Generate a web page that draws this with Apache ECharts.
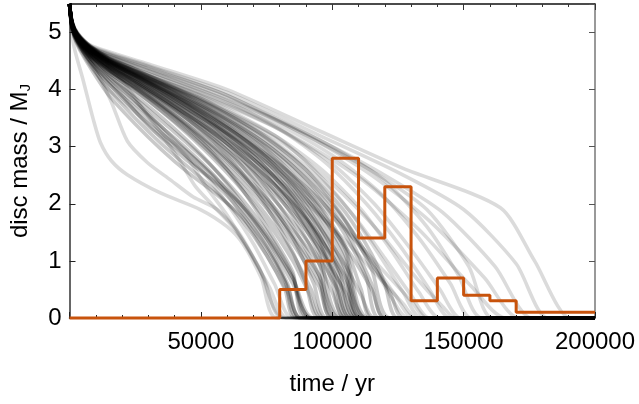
<!DOCTYPE html>
<html>
<head>
<meta charset="utf-8">
<script src="https://cdn.jsdelivr.net/npm/echarts@6/dist/echarts.min.js"></script>
<style>html,body{margin:0;padding:0;background:#fff}#c{width:639px;height:404px}</style>
</head>
<body>
<div id="c"></div>
<script>
// ---- data ----
// histogram (orange): left bin edges and heights
const histEdges = [0,10000,20000,30000,40000,50000,60000,70000,80000,90000,100000,110000,120000,130000,140000,150000,160000,170000,180000,190000,200000];
const histValues = [0,0,0,0,0,0,0,0,0.5,1.0,2.8,1.4,2.3,0.3,0.7,0.4,0.3,0.1,0.1,0.1];

// grey disc-mass tracks [time, mass]
const upperTracks = [
 [[0,5.5],[1000,5.2],[3000,5.0],[8000,4.78],[30000,4.45],[60000,4.0],[95000,3.28],[127000,2.62],[164000,1.93],[177000,1.0],[190500,0]],
 [[0,5.5],[1000,5.19],[3000,4.99],[8000,4.76],[30000,4.42],[60000,3.95],[95000,3.2],[125000,2.55],[150000,1.9],[170000,0.95],[182000,0]],
 [[0,5.5],[1000,5.19],[3000,4.99],[8000,4.75],[30000,4.4],[60000,3.9],[95000,3.12],[120000,2.5],[142000,1.85],[162000,0.9],[176000,0]],
 [[0,5.5],[1000,5.18],[3000,4.98],[8000,4.73],[30000,4.36],[60000,3.86],[92000,3.15],[115000,2.5],[137000,1.7],[158000,0.7],[171000,0]],
 [[0,5.5],[1000,5.18],[3000,4.97],[8000,4.72],[30000,4.33],[60000,3.8],[90000,3.05],[112000,2.4],[133000,1.55],[153000,0.55],[166000,0]],
 [[0,5.5],[1000,5.19],[3000,4.98],[8000,4.74],[30000,4.38],[60000,3.9],[95000,3.08],[116000,2.55],[136000,1.9],[152000,0.9],[161000,0]]
];
const middleTracks = [
 [[0,5.5],[1000,5.18],[3000,4.97],[8000,4.72],[20000,4.5],[50000,4.0],[80000,3.45],[100000,3.0],[120000,2.4],[136000,1.6],[148000,0.75],[157000,0]],
 [[0,5.5],[1000,5.17],[3000,4.96],[8000,4.7],[20000,4.46],[50000,3.95],[80000,3.38],[100000,2.85],[118000,2.2],[133000,1.4],[145000,0.6],[153000,0]],
 [[0,5.5],[1000,5.16],[3000,4.95],[8000,4.68],[20000,4.42],[50000,3.9],[80000,3.3],[100000,2.7],[116000,2.0],[130000,1.2],[141000,0.5],[149000,0]],
 [[0,5.5],[1000,5.17],[3000,4.96],[8000,4.7],[20000,4.45],[50000,3.93],[80000,3.3],[98000,2.7],[113000,2.0],[126000,1.25],[137000,0.5],[145000,0]],
 [[0,5.5],[1000,5.15],[3000,4.94],[8000,4.66],[20000,4.38],[50000,3.84],[78000,3.2],[96000,2.6],[111000,1.9],[123000,1.15],[133000,0.45],[141000,0]],
 [[0,5.5],[1000,5.14],[3000,4.93],[8000,4.64],[20000,4.35],[50000,3.8],[76000,3.15],[94000,2.5],[108000,1.8],[120000,1.05],[130000,0.4],[137000,0]],
 [[0,5.5],[1000,5.16],[3000,4.95],[8000,4.68],[20000,4.42],[50000,3.88],[78000,3.2],[93000,2.6],[107000,1.85],[118000,1.1],[127000,0.45],[134000,0]],
 [[0,5.5],[1000,5.13],[3000,4.91],[8000,4.6],[20000,4.3],[50000,3.72],[74000,3.08],[90000,2.45],[104000,1.75],[115000,1.0],[124000,0.4],[131000,0]],
 [[0,5.5],[1000,5.15],[3000,4.94],[8000,4.66],[20000,4.4],[50000,3.85],[74000,3.2],[90000,2.6],[103000,1.85],[114000,1.05],[122000,0.4],[129000,0]],
 [[0,5.5],[1000,5.14],[3000,4.92],[8000,4.62],[20000,4.3],[45000,3.65],[70000,2.95],[90000,2.2],[106000,1.5],[120000,0.8],[130000,0.3],[136000,0]],
 [[0,5.5],[1000,5.12],[3000,4.89],[8000,4.58],[20000,4.25],[45000,3.55],[68000,2.85],[88000,2.1],[104000,1.4],[118000,0.7],[127000,0.25],[132000,0]],
 [[0,5.5],[1000,5.15],[3000,4.93],[8000,4.64],[20000,4.36],[50000,3.82],[80000,3.1],[100000,2.35],[118000,1.5],[132000,0.7],[142000,0.2],[147000,0]]
];
const coreTracks = [
 [[0,5.5],[1000,5.1],[3000,4.88],[8000,4.6],[15000,4.34],[25000,4.03],[35000,3.7],[45000,3.32],[55000,2.87],[65000,2.3],[75000,1.6],[85000,0.8],[90000,0]],
 [[0,5.5],[1000,5.08],[3000,4.85],[8000,4.55],[15000,4.25],[25000,3.9],[35000,3.52],[45000,3.1],[55000,2.62],[65000,2.05],[75000,1.4],[85000,0.6],[92000,0]],
 [[0,5.5],[1000,5.12],[3000,4.9],[8000,4.65],[15000,4.4],[25000,4.12],[35000,3.82],[45000,3.48],[55000,3.08],[65000,2.58],[75000,1.95],[85000,1.15],[90000,0.6],[95000,0]],
 [[0,5.5],[1000,5.1],[3000,4.87],[8000,4.58],[15000,4.3],[25000,3.98],[35000,3.62],[45000,3.22],[55000,2.78],[65000,2.28],[75000,1.7],[85000,1.0],[91000,0.45],[96000,0]],
 [[0,5.5],[1000,5.13],[3000,4.91],[8000,4.67],[15000,4.42],[25000,4.15],[35000,3.86],[45000,3.54],[55000,3.16],[65000,2.7],[75000,2.12],[85000,1.4],[93000,0.6],[98000,0]],
 [[0,5.5],[1000,5.13],[3000,4.92],[8000,4.68],[15000,4.44],[25000,4.18],[35000,3.9],[45000,3.6],[55000,3.25],[65000,2.82],[75000,2.28],[85000,1.6],[95000,0.75],[100000,0]],
 [[0,5.5],[1000,5.11],[3000,4.88],[8000,4.6],[15000,4.33],[25000,4.02],[35000,3.68],[45000,3.3],[55000,2.88],[65000,2.42],[75000,1.92],[85000,1.3],[95000,0.55],[100000,0]],
 [[0,5.5],[1000,5.14],[3000,4.93],[8000,4.69],[15000,4.46],[25000,4.2],[35000,3.93],[45000,3.64],[55000,3.31],[65000,2.9],[75000,2.4],[85000,1.78],[95000,0.95],[102000,0]],
 [[0,5.5],[1000,5.12],[3000,4.9],[8000,4.62],[15000,4.36],[25000,4.06],[35000,3.74],[45000,3.38],[55000,2.98],[65000,2.54],[75000,2.05],[85000,1.45],[95000,0.75],[103000,0]],
 [[0,5.5],[1000,5.14],[3000,4.94],[8000,4.7],[15000,4.47],[25000,4.23],[35000,3.97],[45000,3.7],[55000,3.38],[65000,3.0],[75000,2.55],[85000,1.98],[95000,1.2],[100000,0.62],[105000,0]],
 [[0,5.5],[1000,5.12],[3000,4.9],[8000,4.62],[15000,4.35],[25000,4.05],[35000,3.72],[45000,3.38],[55000,3.0],[65000,2.58],[75000,2.1],[85000,1.55],[95000,0.95],[100000,0.45],[105000,0]],
 [[0,5.5],[1000,5.15],[3000,4.95],[8000,4.71],[15000,4.48],[25000,4.24],[35000,3.99],[45000,3.72],[55000,3.41],[65000,3.05],[75000,2.62],[85000,2.07],[95000,1.33],[101000,0.65],[106000,0]],
 [[0,5.5],[1000,5.13],[3000,4.91],[8000,4.64],[15000,4.38],[25000,4.09],[35000,3.78],[45000,3.45],[55000,3.08],[65000,2.68],[75000,2.22],[85000,1.68],[95000,1.05],[102000,0.5],[107000,0]],
 [[0,5.5],[1000,5.15],[3000,4.95],[8000,4.72],[15000,4.49],[25000,4.25],[35000,4.0],[45000,3.74],[55000,3.44],[65000,3.09],[75000,2.68],[85000,2.15],[95000,1.45],[102000,0.8],[108000,0]],
 [[0,5.5],[1000,5.15],[3000,4.95],[8000,4.72],[15000,4.5],[25000,4.26],[35000,4.02],[45000,3.76],[55000,3.47],[65000,3.13],[75000,2.73],[85000,2.22],[95000,1.55],[103000,0.8],[109000,0]],
 [[0,5.5],[1000,5.15],[3000,4.95],[8000,4.72],[15000,4.5],[25000,4.27],[35000,4.03],[45000,3.78],[55000,3.5],[65000,3.17],[75000,2.78],[85000,2.28],[95000,1.62],[105000,0.75],[110000,0]],
 [[0,5.5],[1000,5.13],[3000,4.91],[8000,4.64],[15000,4.38],[25000,4.1],[35000,3.8],[45000,3.48],[55000,3.13],[65000,2.75],[75000,2.32],[85000,1.82],[95000,1.22],[105000,0.45],[110000,0]],
 [[0,5.5],[1000,5.16],[3000,4.96],[8000,4.73],[15000,4.51],[25000,4.28],[35000,4.05],[45000,3.8],[55000,3.53],[65000,3.2],[75000,2.82],[85000,2.34],[95000,1.7],[105000,0.85],[111000,0]],
 [[0,5.5],[1000,5.15],[3000,4.95],[8000,4.72],[15000,4.5],[25000,4.26],[35000,4.02],[45000,3.77],[55000,3.49],[65000,3.18],[75000,2.82],[85000,2.38],[95000,1.8],[105000,1.0],[112000,0]],
 [[0,5.5],[1000,5.14],[3000,4.92],[8000,4.66],[15000,4.41],[25000,4.14],[35000,3.86],[45000,3.56],[55000,3.23],[65000,2.87],[75000,2.47],[85000,2.0],[95000,1.42],[105000,0.72],[113000,0]],
 [[0,5.5],[1000,5.16],[3000,4.96],[8000,4.74],[15000,4.52],[25000,4.3],[35000,4.07],[45000,3.83],[55000,3.57],[65000,3.27],[75000,2.92],[85000,2.48],[95000,1.93],[105000,1.2],[114000,0]],
 [[0,5.5],[1000,5.16],[3000,4.96],[8000,4.74],[15000,4.53],[25000,4.31],[35000,4.09],[45000,3.85],[55000,3.6],[65000,3.3],[75000,2.96],[85000,2.52],[95000,1.98],[105000,1.25],[111000,0.5],[115000,0]],
 [[0,5.5],[1000,5.14],[3000,4.93],[8000,4.67],[15000,4.43],[25000,4.17],[35000,3.9],[45000,3.61],[55000,3.3],[65000,2.96],[75000,2.58],[85000,2.14],[95000,1.6],[105000,0.92],[111000,0.4],[116000,0]],
 [[0,5.5],[1000,5.17],[3000,4.97],[8000,4.75],[15000,4.54],[25000,4.32],[35000,4.1],[45000,3.86],[55000,3.61],[65000,3.33],[75000,3.0],[85000,2.6],[95000,2.1],[105000,1.45],[113000,0.7],[118000,0]],
 [[0,5.5],[1000,5.17],[3000,4.97],[8000,4.75],[15000,4.54],[25000,4.33],[35000,4.11],[45000,3.88],[55000,3.63],[65000,3.36],[75000,3.04],[85000,2.66],[95000,2.18],[105000,1.55],[115000,0.6],[120000,0]],
 [[0,5.5],[1000,5.15],[3000,4.94],[8000,4.69],[15000,4.45],[25000,4.2],[35000,3.94],[45000,3.66],[55000,3.37],[65000,3.06],[75000,2.72],[85000,2.32],[95000,1.84],[105000,1.25],[115000,0.5],[120000,0]],
 [[0,5.5],[1000,5.17],[3000,4.98],[8000,4.76],[15000,4.55],[25000,4.35],[35000,4.13],[45000,3.91],[55000,3.67],[65000,3.4],[75000,3.1],[85000,2.73],[95000,2.28],[105000,1.7],[115000,0.85],[122000,0]],
 [[0,5.5],[1000,5.18],[3000,4.98],[8000,4.76],[15000,4.56],[25000,4.36],[35000,4.15],[45000,3.93],[55000,3.7],[65000,3.44],[75000,3.15],[85000,2.8],[95000,2.37],[105000,1.85],[115000,1.12],[120000,0.6],[125000,0]],
 [[0,5.5],[1000,5.16],[3000,4.95],[8000,4.71],[15000,4.48],[25000,4.25],[35000,4.0],[45000,3.74],[55000,3.47],[65000,3.18],[75000,2.86],[85000,2.5],[95000,2.08],[105000,1.58],[115000,0.95],[122000,0.45],[127000,0]],
 [[0,5.5],[1000,5.14],[3000,4.93],[8000,4.69],[15000,4.46],[25000,4.21],[35000,3.95],[45000,3.67],[55000,3.35],[65000,2.96],[75000,2.5],[85000,1.92],[95000,1.12],[104000,0]],
 [[0,5.5],[1000,5.15],[3000,4.94],[8000,4.71],[15000,4.48],[25000,4.24],[35000,3.98],[45000,3.71],[55000,3.4],[65000,3.04],[75000,2.62],[85000,2.1],[95000,1.38],[101000,0.7],[107000,0]],
 [[0,5.5],[1000,5.13],[3000,4.91],[8000,4.65],[15000,4.4],[25000,4.12],[35000,3.83],[45000,3.52],[55000,3.18],[65000,2.8],[75000,2.38],[85000,1.9],[95000,1.3],[103000,0.6],[109000,0]],
 [[0,5.5],[1000,5.13],[3000,4.92],[8000,4.66],[15000,4.41],[25000,4.14],[35000,3.86],[45000,3.56],[55000,3.23],[65000,2.87],[75000,2.47],[85000,2.02],[95000,1.45],[105000,0.6],[111000,0]],
 [[0,5.5],[1000,5.16],[3000,4.96],[8000,4.73],[15000,4.51],[25000,4.29],[35000,4.06],[45000,3.81],[55000,3.54],[65000,3.23],[75000,2.87],[85000,2.43],[95000,1.86],[105000,1.1],[113000,0]],
 [[0,5.5],[1000,5.11],[3000,4.89],[8000,4.61],[15000,4.34],[25000,4.04],[35000,3.71],[45000,3.35],[55000,2.95],[65000,2.5],[75000,2.0],[85000,1.4],[95000,0.65],[101000,0]],
 [[0,5.5],[1000,5.1],[3000,4.87],[8000,4.58],[15000,4.3],[25000,3.98],[35000,3.63],[45000,3.25],[55000,2.83],[65000,2.35],[75000,1.8],[85000,1.12],[92000,0.5],[97000,0]]
];
const lowMidTracks = [
 [[0,5.5],[1000,5.08],[3000,4.84],[8000,4.5],[15000,4.15],[25000,3.75],[35000,3.35],[45000,2.95],[55000,2.5],[65000,1.95],[75000,1.3],[83000,0.6],[88000,0]],
 [[0,5.5],[1000,5.07],[3000,4.82],[8000,4.48],[15000,4.1],[25000,3.68],[35000,3.25],[45000,2.82],[55000,2.38],[65000,1.88],[75000,1.25],[82000,0.65],[87000,0]],
 [[0,5.5],[1000,5.09],[3000,4.86],[8000,4.55],[15000,4.22],[25000,3.85],[35000,3.45],[45000,3.05],[55000,2.62],[65000,2.12],[75000,1.52],[85000,0.75],[91000,0]],
 [[0,5.5],[1000,5.06],[3000,4.8],[8000,4.42],[15000,4.0],[25000,3.5],[35000,3.05],[45000,2.65],[55000,2.25],[65000,1.75],[75000,1.1],[82000,0.5],[86000,0]],
 [[0,5.5],[1000,5.08],[3000,4.83],[8000,4.48],[15000,4.1],[25000,3.62],[35000,3.15],[45000,2.75],[55000,2.4],[65000,2.0],[75000,1.45],[85000,0.7],[92000,0]],
 [[0,5.5],[1000,5.05],[3000,4.78],[8000,4.38],[15000,3.9],[25000,3.4],[35000,2.95],[45000,2.55],[55000,2.2],[65000,1.8],[75000,1.2],[83000,0.55],[88000,0]],
 [[0,5.5],[1000,5.1],[3000,4.86],[8000,4.55],[15000,4.2],[25000,3.8],[35000,3.35],[45000,2.9],[55000,2.48],[65000,2.0],[75000,1.4],[85000,0.7],[93000,0]]
];
const lowTracks = [
 [[0,5.5],[1500,4.8],[5000,4.2],[9100,3.47],[11800,3.07],[16000,2.75],[22000,2.51],[34600,2.19],[49800,1.9],[60000,1.6],[66000,1.3],[73000,0.7],[79000,0]],
 [[0,5.5],[1000,5.1],[3000,4.85],[8000,4.5],[15600,3.82],[22000,3.1],[29700,2.72],[38400,2.42],[47100,2.12],[56300,1.9],[65000,1.46],[74000,0.7],[81000,0]],
 [[0,5.5],[1000,5.1],[3000,4.85],[8000,4.45],[15000,4.0],[25000,3.6],[35000,3.2],[42000,2.75],[48000,2.3],[55000,1.95],[63000,1.55],[72000,0.9],[82000,0]],
 [[0,5.5],[1000,5.11],[3000,4.87],[8000,4.55],[20000,4.05],[30000,3.55],[38000,3.15],[45000,2.8],[52000,2.3],[60000,1.8],[68000,1.2],[76000,0.55],[83000,0]],
 [[0,5.5],[1000,5.1],[3000,4.85],[8000,4.5],[20000,3.9],[30000,3.35],[40000,3.0],[50000,2.6],[60000,2.0],[70000,1.3],[78000,0.6],[85000,0]],
 [[0,5.5],[1000,5.12],[3000,4.88],[8000,4.58],[20000,4.15],[34600,3.26],[45000,2.9],[55000,2.45],[65000,1.85],[75000,1.1],[83000,0.45],[88000,0]]
];

// ---- build ----
const lightGroups = [].concat(upperTracks, middleTracks, lowTracks);
const denseGroups = [].concat(coreTracks, lowMidTracks);
const histData = histEdges.map((e, i) => [e, i < histValues.length ? histValues[i] : histValues[histValues.length - 1]]);

const FONT = 'Liberation Sans';
function greySeries(tr, op) {
  return {
    type: 'line',
    data: tr.concat([[200000, 0]]),
    smooth: 0.25,
    showSymbol: false,
    silent: true,
    clip: true,
    lineStyle: { color: '#000', opacity: op, width: 3.6 }
  };
}
const series = lightGroups.map(tr => greySeries(tr, 0.14))
  .concat(denseGroups.map(tr => greySeries(tr, 0.21)));
series.push({
  type: 'line',
  data: histData,
  step: 'end',
  showSymbol: false,
  clip: false,
  z: 10,
  lineStyle: { color: '#c8530c', width: 3 }
});

const chart = echarts.init(document.getElementById('c'), null, { renderer: 'canvas' });
chart.setOption({
  animation: false,
  backgroundColor: '#fff',
  grid: { left: 69, right: 44, top: 4, bottom: 86, containLabel: false },
  xAxis: [{
    type: 'value', position: 'bottom', min: 0, max: 200000, interval: 50000,
    axisLine: { show: true, onZero: false, lineStyle: { color: '#222', width: 1.5 } },
    axisTick: { show: true, inside: true, length: 6, lineStyle: { color: '#222' } },
    minorTick: { show: true, splitNumber: 5, length: 3, lineStyle: { color: '#222' } },
    splitLine: { show: false },
    axisLabel: { showMinLabel: false, fontSize: 24, color: '#000', fontFamily: FONT, margin: 12,
      formatter: v => String(v) },
    name: 'time / yr', nameLocation: 'middle', nameGap: 54,
    nameTextStyle: { fontSize: 24, color: '#000', fontFamily: FONT }
  }, {
    type: 'value', position: 'top', min: 0, max: 200000, interval: 50000,
    axisLine: { show: true, onZero: false, lineStyle: { color: '#111', width: 1.5 } },
    axisTick: { show: true, inside: true, length: 6, lineStyle: { color: '#333' } },
    minorTick: { show: true, splitNumber: 5, length: 3, lineStyle: { color: '#333' } },
    splitLine: { show: false },
    axisLabel: { show: false }
  }],
  yAxis: [{
    type: 'value', position: 'left', min: 0, max: 5.5, interval: 1,
    axisLine: { show: true, onZero: false, lineStyle: { color: '#333', width: 1.5 } },
    axisTick: { show: true, inside: true, length: 6, lineStyle: { color: '#222' } },
    splitLine: { show: false },
    axisLabel: { showMaxLabel: false, fontSize: 24, color: '#000', fontFamily: FONT, margin: 8 },
    name: 'disc mass / M{sub|J}', nameLocation: 'middle', nameGap: 36, nameRotate: 90,
    nameTextStyle: { fontSize: 24, color: '#000', fontFamily: FONT,
      rich: { sub: { fontSize: 15, fontFamily: FONT, color: '#000', padding: [12, 0, 0, 0] } } }
  }, {
    type: 'value', position: 'right', min: 0, max: 5.5, interval: 1,
    axisLine: { show: true, onZero: false, lineStyle: { color: '#777', width: 1.5 } },
    axisTick: { show: true, inside: true, length: 6, lineStyle: { color: '#555' } },
    splitLine: { show: false },
    axisLabel: { show: false }
  }],
  series: series
});
</script>
</body>
</html>
